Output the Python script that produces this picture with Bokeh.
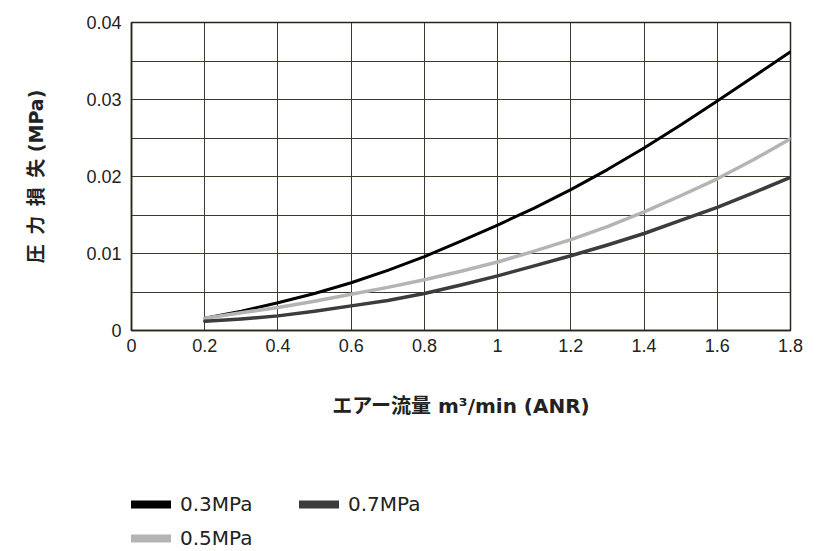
from bokeh.plotting import figure
from bokeh.layouts import column
from bokeh.models import Range1d, FixedTicker, CustomJSTickFormatter, Legend, LegendItem
from bokeh.embed import file_html
from bokeh.resources import INLINE

# ---- data ----
flow = [0.2, 0.3, 0.4, 0.5, 0.6, 0.7, 0.8, 0.9, 1.0, 1.1, 1.2, 1.3, 1.4, 1.5, 1.6, 1.7, 1.8]
loss_03 = [0.0016, 0.0025, 0.0036, 0.0048, 0.0062, 0.0078, 0.0096, 0.0116, 0.0137,
           0.0159, 0.0183, 0.0209, 0.0237, 0.0267, 0.0298, 0.0330, 0.0362]
loss_05 = [0.0016, 0.0023, 0.0030, 0.0038, 0.0047, 0.0056, 0.0066, 0.0077, 0.0089,
           0.0103, 0.0118, 0.0135, 0.0154, 0.0175, 0.0197, 0.0222, 0.0249]
loss_07 = [0.0012, 0.0015, 0.0019, 0.0025, 0.0032, 0.0039, 0.0048, 0.0059, 0.0071,
           0.0084, 0.0097, 0.0111, 0.0126, 0.0143, 0.0160, 0.0179, 0.0199]
series_names = ["0.3MPa", "0.5MPa", "0.7MPa"]
x_ticks = [0, 0.2, 0.4, 0.6, 0.8, 1.0, 1.2, 1.4, 1.6, 1.8]
y_ticks = [0, 0.01, 0.02, 0.03, 0.04]
y_grid = [0, 0.005, 0.01, 0.015, 0.02, 0.025, 0.03, 0.035, 0.04]
x_label = "エアー流量 m³/min (ANR)"
y_label = "圧\u2002力\u2002損\u2002失 (MPa)"

GRID = "#3d372c"
TXT = "#222222"
LABEL_FONT = "DejaVu Sans, Noto Sans CJK JP"

p = figure(width=821, height=481, output_backend="svg", toolbar_location=None,
           x_range=Range1d(0, 1.8), y_range=Range1d(0, 0.04),
           min_border_left=131, min_border_right=31, min_border_top=22, min_border_bottom=151)
p.background_fill_color = "white"
p.border_fill_color = "white"
p.outline_line_color = "#2b2418"
p.outline_line_width = 1.5

fmt = CustomJSTickFormatter(code="return String(Number(tick.toPrecision(6)));")

p.xaxis.ticker = FixedTicker(ticks=x_ticks)
p.yaxis.ticker = FixedTicker(ticks=y_ticks)
p.xaxis.formatter = fmt
p.yaxis.formatter = fmt
p.xgrid.ticker = FixedTicker(ticks=x_ticks)
p.ygrid.ticker = FixedTicker(ticks=y_grid)
for g in (p.xgrid, p.ygrid):
    g.grid_line_color = GRID
    g.grid_line_width = 1
    g.grid_line_alpha = 1.0

for ax in (p.xaxis, p.yaxis):
    ax.axis_line_color = "#2b2418"
    ax.axis_line_width = 1.5
    ax.major_tick_line_color = None
    ax.minor_tick_line_color = None
    ax.major_tick_out = 0
    ax.major_tick_in = 0
    ax.major_label_text_font = "Liberation Sans"
    ax.major_label_text_font_size = "18px"
    ax.major_label_text_color = TXT
    ax.axis_label_text_font = LABEL_FONT
    ax.axis_label_text_font_style = "bold"
    ax.axis_label_text_font_size = "19px"
    ax.axis_label_text_color = TXT

p.xaxis.axis_label = x_label
p.yaxis.axis_label = y_label
p.xaxis.axis_label_text_font_size = "20px"
p.xaxis.major_label_standoff = 8
p.yaxis.major_label_standoff = 10
p.xaxis.axis_label_standoff = 39
p.yaxis.axis_label_standoff = 36

colors = ["#000000", "#b4b4b4", "#3c3c3c"]
widths = [3, 3.5, 3.5]
data = [loss_03, loss_05, loss_07]

for ys, c, w in zip(data, colors, widths):
    p.line(flow, ys, line_color=c, line_width=w, line_join="round", line_cap="round")

# ---- legend strip below the chart ----
leg = figure(width=821, height=70, output_backend="svg", toolbar_location=None,
             x_range=Range1d(0, 821), y_range=Range1d(0, 70),
             x_axis_type=None, y_axis_type=None,
             min_border_left=0, min_border_right=0, min_border_top=0, min_border_bottom=0)
leg.outline_line_color = None
leg.background_fill_color = "white"
leg.border_fill_color = "white"

items = []
for name, c in zip(series_names, colors):
    # proxy line kept outside the visible range: only its legend glyph shows
    r = leg.line([-20, -10], [-20, -20], line_color=c, line_width=8, line_cap="round")
    items.append(LegendItem(label=name, renderers=[r]))

legend = Legend(items=items, location=(0, 1), orientation="vertical", nrows=2,
                glyph_width=40, glyph_height=24, label_height=24, label_width=109,
                label_standoff=9, spacing=10, padding=0, margin=0,
                border_line_color=None, background_fill_alpha=0,
                label_text_font="DejaVu Sans", label_text_font_size="20px",
                label_text_color=TXT)
leg.add_layout(legend, "center")

page = column(p, leg, spacing=0)
open("out.html", "w").write(file_html(page, INLINE))
